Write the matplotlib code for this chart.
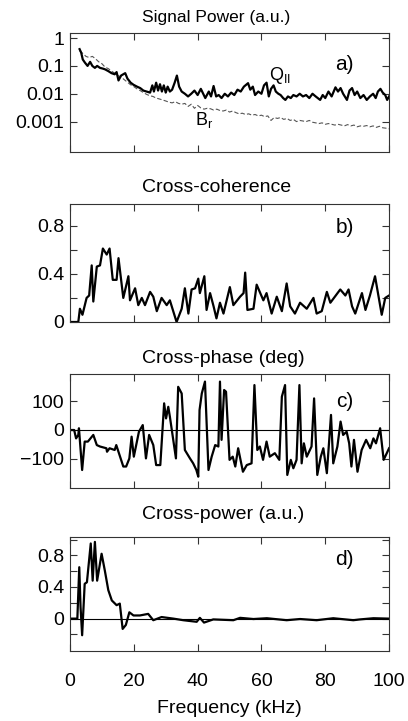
import matplotlib
matplotlib.use("Agg")
import matplotlib.pyplot as plt

plt.rcParams['font.family'] = ['Liberation Sans', 'DejaVu Sans']
plt.rcParams['mathtext.fontset'] = 'custom'
plt.rcParams['mathtext.rm'] = 'Liberation Sans'
plt.rcParams['mathtext.it'] = 'Liberation Sans'

# a) signal power, Q_parallel (solid) and B_r (dashed)
q_freq = [3, 3.5, 4, 4.7, 5.5, 6.3, 7, 7.8, 8.5, 9.4, 10.3, 11, 12, 13, 14, 14.6, 15.2,
          16, 17.3, 18, 19, 19.9, 21, 22, 23, 24, 25.1, 25.8, 26.3, 27, 27.6, 28.2, 28.8,
          29.4, 30, 30.6, 31.3, 32, 32.8, 33.5, 34.2, 35, 36, 37, 38, 39, 40, 41, 42.4,
          43.5, 44.2, 45, 45.8, 46.6, 47.5, 48.5, 49.5, 50.5, 51.5, 52.5, 53.5, 54.5, 55.8,
          56.5, 57.3, 58, 59, 60, 60.8, 61.6, 62.3, 63, 63.8, 64.5, 65.3, 66, 66.8, 67.5,
          68.3, 69.2, 70, 71, 72, 73, 74, 75, 76, 77, 78.4, 79.2, 80, 81, 82, 83.2, 84,
          84.8, 85.6, 86.8, 87.6, 88.4, 89.2, 90, 91, 92, 93, 94, 95, 95.8, 96.5, 97.3,
          98, 98.8, 99.4, 100]
q_power = [0.40, 0.30, 0.17, 0.13, 0.10, 0.14, 0.10, 0.085, 0.10, 0.085, 0.08, 0.075,
           0.065, 0.055, 0.05, 0.06, 0.03, 0.045, 0.055, 0.035, 0.025, 0.021, 0.018, 0.016,
           0.013, 0.012, 0.011, 0.02, 0.012, 0.025, 0.013, 0.022, 0.012, 0.02, 0.011, 0.018,
           0.012, 0.014, 0.025, 0.045, 0.018, 0.012, 0.01, 0.008, 0.01, 0.013, 0.009, 0.015,
           0.007, 0.012, 0.008, 0.019, 0.008, 0.009, 0.007, 0.01, 0.008, 0.011, 0.009, 0.014,
           0.012, 0.018, 0.024, 0.014, 0.018, 0.009, 0.012, 0.01, 0.02, 0.025, 0.008, 0.015,
           0.02, 0.012, 0.01, 0.009, 0.007, 0.006, 0.008, 0.007, 0.009, 0.008, 0.01, 0.008,
           0.009, 0.007, 0.01, 0.008, 0.006, 0.009, 0.007, 0.012, 0.008, 0.017, 0.012, 0.016,
           0.01, 0.006, 0.013, 0.016, 0.009, 0.012, 0.007, 0.009, 0.006, 0.008, 0.01, 0.007,
           0.012, 0.015, 0.011, 0.009, 0.006, 0.008]

br_freq = list(range(3, 101))
br_power = [0.35, 0.28, 0.22, 0.2, 0.22, 0.18, 0.14, 0.12, 0.09, 0.08, 0.065, 0.055, 0.045,
            0.04, 0.032, 0.026, 0.021, 0.018, 0.015, 0.013, 0.011, 0.0095, 0.0085, 0.008,
            0.007, 0.0065, 0.006, 0.0055, 0.005, 0.0047, 0.0052, 0.0045, 0.0042, 0.0045,
            0.0035, 0.0042, 0.003, 0.0038, 0.0031, 0.0028, 0.003, 0.0029, 0.0026, 0.0028,
            0.0025, 0.0024, 0.0026, 0.0022, 0.0024, 0.0021, 0.0019, 0.002, 0.0018, 0.0019,
            0.0017, 0.0018, 0.0016, 0.0017, 0.0015, 0.0016, 0.0011, 0.0014, 0.0013, 0.0014,
            0.0012, 0.0013, 0.0011, 0.0012, 0.001, 0.0011, 0.00105, 0.001, 0.0011, 0.00095,
            0.0009, 0.00085, 0.0009, 0.0008, 0.00085, 0.0008, 0.00075, 0.0008, 0.00075,
            0.0007, 0.00078, 0.0007, 0.00075, 0.00065, 0.0007, 0.00068, 0.00072, 0.00065,
            0.0007, 0.00062, 0.00068, 0.0006, 0.00058, 0.00055]

# b) cross-coherence
coh_freq = [0, 2.6, 3.1, 3.9, 5.2, 6.0, 6.8, 7.3, 8.4, 9.4, 10.3, 11.5, 12.4, 13.4, 14.6,
            15.2, 16.7, 18.3, 18.8, 20.4, 21.4, 22.5, 23.5, 25.1, 26.1, 27.2, 28.7, 30.3,
            31.3, 33.4, 35.0, 36.0, 37.1, 38.1, 39.2, 40.2, 40.7, 42.1, 42.8, 43.9, 45.0,
            45.9, 47.0, 48.1, 50.1, 51.2, 53.3, 54.4, 54.9, 55.6, 57.5, 58.5, 60.6, 61.6,
            63.2, 64.8, 66.4, 67.9, 69.0, 70.5, 72.1, 74.2, 76.3, 77.3, 78.9, 80.5, 81.6,
            84.7, 86.3, 87.3, 88.4, 89.4, 91.5, 92.6, 94.0, 95.6, 97.7, 98.8, 100]
coherence = [0, 0, 0.11, 0.06, 0.2, 0.22, 0.47, 0.17, 0.46, 0.47, 0.61, 0.56, 0.61, 0.35,
             0.35, 0.53, 0.2, 0.38, 0.18, 0.28, 0.14, 0.2, 0.14, 0.25, 0.21, 0.09, 0.2, 0.14,
             0.18, 0.0, 0.11, 0.28, 0.07, 0.27, 0.28, 0.36, 0.24, 0.38, 0.1, 0.24, 0.13,
             0.03, 0.16, 0.07, 0.29, 0.14, 0.21, 0.24, 0.41, 0.1, 0.11, 0.31, 0.18, 0.24,
             0.07, 0.21, 0.09, 0.32, 0.13, 0.07, 0.16, 0.11, 0.2, 0.07, 0.09, 0.25, 0.16,
             0.27, 0.22, 0.27, 0.13, 0.07, 0.24, 0.1, 0.22, 0.38, 0.06, 0.2, 0.22]

# c) cross-phase (deg)
ph_freq = [0, 1.3, 1.9, 2.6, 2.8, 3.8, 4.6, 5.6, 7.3, 8.4, 9.4, 11.4, 11.6, 12.4, 14.0,
           14.5, 16.7, 17.6, 18.6, 19.3, 20.0, 21.6, 22.8, 23.8, 24.8, 26.1, 27.0, 28.3,
           29.5, 30.1, 30.8, 31.3, 33.2, 33.9, 35.0, 36.0, 37.6, 38.6, 39.6, 40.2, 40.6,
           41.3, 42.3, 43.4, 44.4, 45.5, 46.5, 47.0, 47.5, 48.3, 48.9, 50.0, 51.0, 51.8,
           52.7, 54.2, 55.4, 56.9, 57.8, 58.7, 59.5, 60.5, 61.6, 62.6, 64.2, 65.6, 66.4,
           67.4, 68.1, 69.2, 70.0, 71.0, 71.9, 72.6, 73.3, 74.2, 75.7, 76.5, 77.5, 78.6,
           79.4, 80.5, 81.8, 82.5, 83.8, 84.8, 85.6, 86.7, 87.5, 88.2, 89.0, 90.1, 91.4,
           92.8, 94.1, 95.1, 95.9, 97.2, 98.3, 100]
phase = [0, 0, -29, -17, 6, -138, -40, -40, -17, -52, -57, -63, -75, -63, -69, -52, -126,
         -126, -98, -23, -92, -6, 17, -98, -17, -52, -121, -121, 92, 40, 80, 46, -98, 149,
         126, -69, -98, -115, -138, -161, 69, 126, 167, -138, -92, -52, -57, 167, -34, 138,
         132, -103, -92, -126, -63, -144, -121, -115, 155, -69, -57, -103, -40, -92, -80,
         -103, 115, 155, -155, -103, -132, -103, 155, -115, -46, -92, -57, 109, -155, -92,
         -63, -149, 52, -115, -57, 29, -17, -6, -46, -126, -34, -144, -69, -34, -63, -29,
         -46, 6, -103, -63]

# d) cross-power (a.u.)
cp_freq = [0, 2.3, 2.9, 3.3, 3.8, 4.6, 5.3, 6.5, 7.1, 7.8, 8.5, 9.9, 10.9, 12.0, 13.1,
           14.6, 15.6, 16.5, 17.5, 18.6, 19.9, 21.9, 24.5, 26.1, 28.7, 32.4, 35.5, 39.7,
           40.7, 42.0, 44.9, 51.2, 53.3, 57.5, 61.7, 67.9, 72.1, 77.3, 82.5, 88.8, 90.9,
           95.1, 100]
cross_power = [0, 0, 0.65, 0.15, -0.21, 0.44, 0.46, 0.95, 0.48, 0.97, 0.48, 0.82, 0.61,
               0.36, 0.23, 0.17, 0.19, -0.13, -0.08, 0.08, 0.04, 0.04, 0.06, -0.02, 0.02,
               0.0, -0.02, -0.04, 0.01, -0.05, -0.01, -0.02, 0.01, -0.005, 0.005, -0.02,
               -0.005, -0.02, 0.005, -0.02, -0.01, 0.005, 0.0]

fig = plt.figure(figsize=(4.08, 7.21), dpi=100)
left, width = 0.1716, 0.782
ax_a = fig.add_axes([left, 0.789, width, 0.165])
ax_b = fig.add_axes([left, 0.5534, width, 0.1637])
ax_c = fig.add_axes([left, 0.3232, width, 0.158])
ax_d = fig.add_axes([left, 0.097, width, 0.158])
axes = [ax_a, ax_b, ax_c, ax_d]

lw = 1.6
ax_a.plot(br_freq, br_power, color='#555555', lw=0.8, dashes=(4, 2))
ax_a.plot(q_freq, q_power, color='black', lw=lw)
ax_a.set_yscale('log')
ax_a.set_ylim(8e-5, 1.5)
ax_a.set_yticks([1, 0.1, 0.01, 0.001])
ax_a.set_yticklabels(['1', '0.1', '0.01', '0.001'])
ax_a.text(65.8, 0.045, r'Q$_{\mathrm{II}}$', fontsize=13, ha='center', va='center')
ax_a.text(42, 0.0011, r'B$_{\mathrm{r}}$', fontsize=13, ha='center', va='center')

ax_b.plot(coh_freq, coherence, color='black', lw=lw)
ax_b.set_ylim(0, 0.98)
ax_b.set_yticks([0, 0.2, 0.4, 0.6, 0.8])
ax_b.set_yticklabels(['0', '', '0.4', '', '0.8'])

ax_c.plot(ph_freq, phase, color='black', lw=lw)
ax_c.axhline(0, color='black', lw=0.8)
ax_c.set_ylim(-200, 193)
ax_c.set_yticks([-100, 0, 100])

ax_d.plot(cp_freq, cross_power, color='black', lw=lw)
ax_d.axhline(0, color='black', lw=0.8)
ax_d.set_ylim(-0.41, 1.03)
ax_d.set_yticks([-0.2, 0, 0.2, 0.4, 0.6, 0.8, 1.0])
ax_d.set_yticklabels(['', '0', '', '0.4', '', '0.8', ''])

titles = ['Signal Power (a.u.)', 'Cross-coherence', 'Cross-phase (deg)', 'Cross-power (a.u.)']
title_size = [12.5, 14, 14, 14]
title_y = [1.134, 1.136, 1.14, 1.20]
tags = ['a)', 'b)', 'c)', 'd)']
tag_y = [0.74, 0.80, 0.76, 0.80]

for ax, title, fs, ty, tag, gy in zip(axes, titles, title_size, title_y, tags, tag_y):
    ax.set_xlim(0, 100)
    ax.set_xticks([0, 20, 40, 60, 80, 100])
    ax.tick_params(which='both', direction='in', top=True, right=True,
                   labelsize=14, pad=4, width=0.8, color='#333333')
    ax.tick_params(which='major', length=5)
    ax.tick_params(which='minor', length=3)
    for s in ax.spines.values():
        s.set_linewidth(0.8)
        s.set_color('#333333')
    ax.text(0.226, ty, title, transform=ax.transAxes, ha='left', va='center', fontsize=fs)
    ax.text(0.86, gy, tag, transform=ax.transAxes, ha='center', va='center', fontsize=15)
    if ax is not ax_d:
        ax.tick_params(axis='x', labelbottom=False)

ax_d.tick_params(axis='x', pad=16)
ax_d.set_xlabel('Frequency (kHz)', fontsize=14, labelpad=7)

fig.savefig('out.png', dpi=100)
